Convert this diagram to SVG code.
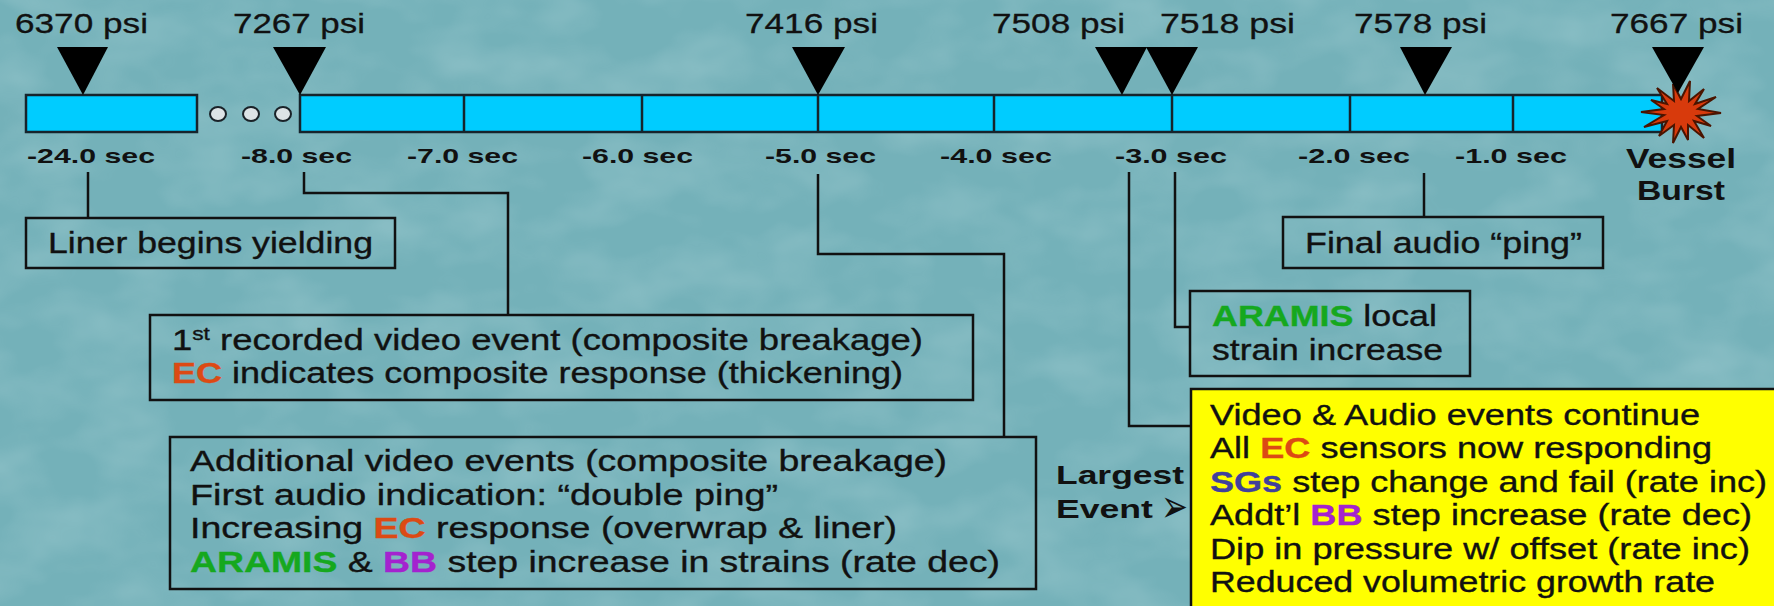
<svg xmlns="http://www.w3.org/2000/svg" width="1774" height="606" viewBox="0 0 1774 606">
<defs>
<filter id="mottle" x="0" y="0" width="100%" height="100%">
<feTurbulence type="fractalNoise" baseFrequency="0.012 0.02" numOctaves="3" seed="7" result="n"/>
<feColorMatrix in="n" type="matrix" values="0 0 0 0 0.9  0 0 0 0 1  0 0 0 0 1  0 0 0 1.2 -0.45"/>
</filter>
<style>
.bg{fill:#74b1b9}
.seg{fill:#00ccff;stroke:#16242c;stroke-width:2.5}
.div{stroke:#16242c;stroke-width:2.5}
.tri{fill:#000}
.dot{fill:#dde3e6;stroke:#1a2228;stroke-width:2}
.box{fill:none;stroke:#111;stroke-width:2.5}
.ybox{fill:#ffff00;stroke:#111;stroke-width:2.5}
.con{fill:none;stroke:#111;stroke-width:2.5}
.psi{font-family:"Liberation Sans",Arial,sans-serif;font-size:28px;fill:#111;stroke:#111;stroke-width:0.3}
.sec{font-family:"Liberation Sans",Arial,sans-serif;font-size:21px;font-weight:bold;fill:#111}
.big{font-family:"Liberation Sans",Arial,sans-serif;font-size:25px;font-weight:bold;fill:#111}
.vb{font-family:"Liberation Sans",Arial,sans-serif;font-size:27px;font-weight:bold;fill:#111}
.t{font-family:"Liberation Sans",Arial,sans-serif;font-size:29px;fill:#111;stroke:#111;stroke-width:0.35}
.ec{fill:#dc4a14;stroke:#dc4a14;font-weight:bold}
.ar{fill:#16a81e;stroke:#16a81e;font-weight:bold}
.bb{fill:#a422cf;stroke:#a422cf;font-weight:bold}
.sg{fill:#40409c;stroke:#40409c;font-weight:bold}
</style>
</defs>
<rect class="bg" x="0" y="0" width="1774" height="606"/>
<rect x="0" y="0" width="1774" height="606" filter="url(#mottle)" opacity="0.25"/>

<g id="timeline">
<rect class="seg" x="26" y="95" width="171" height="37"/>
<rect class="seg" x="300" y="95" width="1362" height="37"/>
<line class="div" x1="464" y1="95" x2="464" y2="132"/>
<line class="div" x1="642" y1="95" x2="642" y2="132"/>
<line class="div" x1="818" y1="95" x2="818" y2="132"/>
<line class="div" x1="994" y1="95" x2="994" y2="132"/>
<line class="div" x1="1172" y1="95" x2="1172" y2="132"/>
<line class="div" x1="1350" y1="95" x2="1350" y2="132"/>
<line class="div" x1="1513" y1="95" x2="1513" y2="132"/>
<ellipse class="dot" cx="218" cy="114" rx="8" ry="7"/>
<ellipse class="dot" cx="251" cy="114" rx="8" ry="7"/>
<ellipse class="dot" cx="283" cy="114" rx="8" ry="7"/>
<polygon id="burst" points="1721,113 1697,116 1711,126 1694,121 1704,138 1688,125 1688,140 1681,127 1673,143 1674,125 1659,136 1667,121 1644,127 1664,115 1641,112 1664,109 1651,100 1667,104 1657,88 1674,101 1673,84 1681,99 1690,81 1689,101 1704,89 1695,104 1716,97 1698,109" fill="#d83a0c" stroke="#4a1400" stroke-width="2" stroke-linejoin="miter"/>
</g>

<g id="markers">
<polygon class="tri" points="57,47 108,47 83,95"/>
<polygon class="tri" points="273,47 326,47 300,95"/>
<polygon class="tri" points="792,47 845,47 818,95"/>
<polygon class="tri" points="1095,47 1147,47 1122,95"/>
<polygon class="tri" points="1146,47 1198,47 1172,95"/>
<polygon class="tri" points="1400,47 1452,47 1425,95"/>
<polygon class="tri" points="1652,47 1704,47 1678,93"/>
<text class="psi" x="15" y="33" textLength="133" lengthAdjust="spacingAndGlyphs">6370 psi</text>
<text class="psi" x="233" y="33" textLength="132" lengthAdjust="spacingAndGlyphs">7267 psi</text>
<text class="psi" x="745" y="33" textLength="133" lengthAdjust="spacingAndGlyphs">7416 psi</text>
<text class="psi" x="992" y="33" textLength="133" lengthAdjust="spacingAndGlyphs">7508 psi</text>
<text class="psi" x="1160" y="33" textLength="135" lengthAdjust="spacingAndGlyphs">7518 psi</text>
<text class="psi" x="1354" y="33" textLength="133" lengthAdjust="spacingAndGlyphs">7578 psi</text>
<text class="psi" x="1610" y="33" textLength="133" lengthAdjust="spacingAndGlyphs">7667 psi</text>
</g>

<g id="time-labels">
<text class="sec" x="27" y="163" textLength="128" lengthAdjust="spacingAndGlyphs">-24.0 sec</text>
<text class="sec" x="241" y="163" textLength="111" lengthAdjust="spacingAndGlyphs">-8.0 sec</text>
<text class="sec" x="407" y="163" textLength="111" lengthAdjust="spacingAndGlyphs">-7.0 sec</text>
<text class="sec" x="582" y="163" textLength="111" lengthAdjust="spacingAndGlyphs">-6.0 sec</text>
<text class="sec" x="765" y="163" textLength="111" lengthAdjust="spacingAndGlyphs">-5.0 sec</text>
<text class="sec" x="940" y="163" textLength="112" lengthAdjust="spacingAndGlyphs">-4.0 sec</text>
<text class="sec" x="1115" y="163" textLength="112" lengthAdjust="spacingAndGlyphs">-3.0 sec</text>
<text class="sec" x="1298" y="163" textLength="112" lengthAdjust="spacingAndGlyphs">-2.0 sec</text>
<text class="sec" x="1455" y="163" textLength="112" lengthAdjust="spacingAndGlyphs">-1.0 sec</text>
<text class="vb" x="1626" y="168" textLength="110" lengthAdjust="spacingAndGlyphs">Vessel</text>
<text class="vb" x="1637" y="200" textLength="88" lengthAdjust="spacingAndGlyphs">Burst</text>
</g>

<g id="connectors">
<path class="con" d="M88,172 V218"/>
<path class="con" d="M304,172 V193 H508 V315"/>
<path class="con" d="M818,174 V254 H1004 V437"/>
<path class="con" d="M1175,172 V327 H1190"/>
<path class="con" d="M1129,172 V426 H1191"/>
<path class="con" d="M1424,173 V217"/>
</g>

<g id="liner">
<rect class="box" x="26" y="218" width="369" height="50"/>
<text class="t" x="48" y="253" textLength="325" lengthAdjust="spacingAndGlyphs">Liner begins yielding</text>
</g>

<g id="first-video">
<rect class="box" x="150" y="315" width="823" height="85"/>
<text class="t" x="172" y="350" textLength="751" lengthAdjust="spacingAndGlyphs">1<tspan font-size="18" dy="-10">st</tspan><tspan dy="10">  recorded video event (composite breakage)</tspan></text>
<text class="t" x="172" y="383" textLength="731" lengthAdjust="spacingAndGlyphs"><tspan class="ec">EC</tspan> indicates composite response (thickening)</text>
</g>

<g id="additional">
<rect class="box" x="170" y="437" width="866" height="152"/>
<text class="t" x="190" y="471" textLength="757" lengthAdjust="spacingAndGlyphs">Additional video events (composite breakage)</text>
<text class="t" x="190" y="505" textLength="588" lengthAdjust="spacingAndGlyphs">First audio indication: “double ping”</text>
<text class="t" x="190" y="538" textLength="707" lengthAdjust="spacingAndGlyphs">Increasing <tspan class="ec">EC</tspan> response (overwrap &amp; liner)</text>
<text class="t" x="190" y="572" textLength="810" lengthAdjust="spacingAndGlyphs"><tspan class="ar">ARAMIS</tspan> &amp; <tspan class="bb">BB</tspan> step increase in strains (rate dec)</text>
</g>

<g id="aramis">
<rect class="box" x="1190" y="291" width="280" height="85"/>
<text class="t" x="1212" y="326" textLength="225" lengthAdjust="spacingAndGlyphs"><tspan class="ar">ARAMIS</tspan> local</text>
<text class="t" x="1212" y="360" textLength="231" lengthAdjust="spacingAndGlyphs">strain increase</text>
</g>

<g id="final-ping">
<rect class="box" x="1283" y="217" width="320" height="51"/>
<text class="t" x="1305" y="253" textLength="277" lengthAdjust="spacingAndGlyphs">Final audio “ping”</text>
</g>

<g id="largest">
<text class="big" x="1056" y="484" textLength="128" lengthAdjust="spacingAndGlyphs">Largest</text>
<text class="big" x="1056" y="518"><tspan textLength="97" lengthAdjust="spacingAndGlyphs">Event</tspan><tspan x="1161" dy="4" font-family="DejaVu Sans,sans-serif" font-size="46" font-weight="normal" textLength="27" lengthAdjust="spacingAndGlyphs">➢</tspan></text>
</g>

<g id="largest-event-box">
<rect class="ybox" x="1191" y="389" width="600" height="230"/>
<text class="t" x="1210" y="425" textLength="490" lengthAdjust="spacingAndGlyphs">Video &amp; Audio events continue</text>
<text class="t" x="1210" y="458" textLength="502" lengthAdjust="spacingAndGlyphs">All <tspan class="ec">EC</tspan> sensors now responding</text>
<text class="t" x="1210" y="492" textLength="557" lengthAdjust="spacingAndGlyphs"><tspan class="sg">SGs</tspan> step change and fail (rate inc)</text>
<text class="t" x="1210" y="525" textLength="542" lengthAdjust="spacingAndGlyphs">Addt’l <tspan class="bb">BB</tspan> step increase (rate dec)</text>
<text class="t" x="1210" y="559" textLength="540" lengthAdjust="spacingAndGlyphs">Dip in pressure w/ offset (rate inc)</text>
<text class="t" x="1210" y="592" textLength="505" lengthAdjust="spacingAndGlyphs">Reduced volumetric growth rate</text>
</g>
</svg>
